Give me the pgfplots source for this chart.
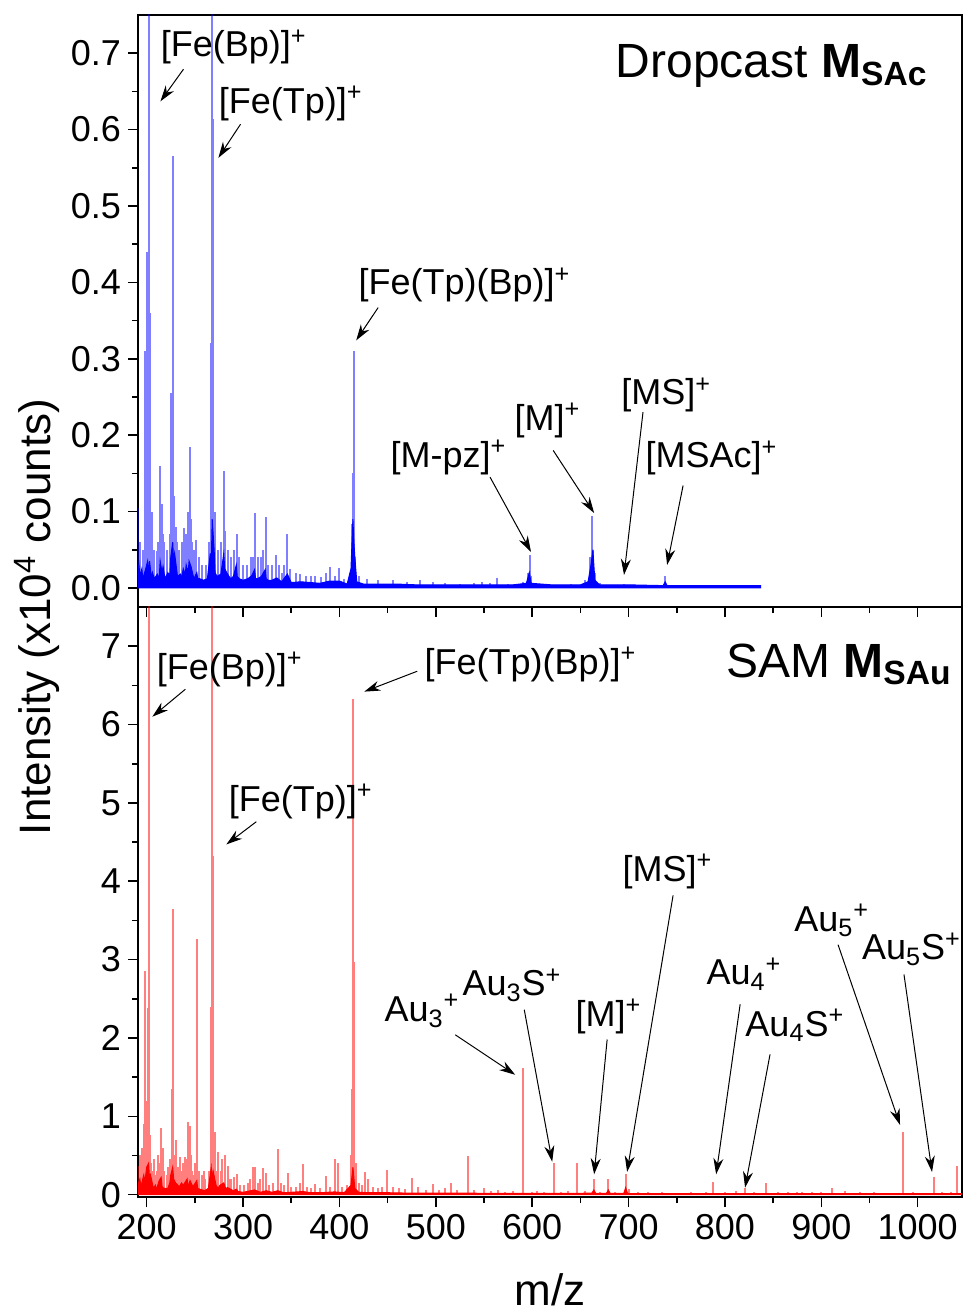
\documentclass[border=0pt]{standalone}
\usepackage{fontspec}
\setmainfont{Liberation Sans}
\usepackage{pgfplots}
\usepackage{pgfplotstable}
\pgfplotsset{compat=1.18}
\usetikzlibrary{arrows.meta}

% ---------- Dropcast (blue) : individual peaks ----------
\pgfplotstableread{
m I
191.5 0.105
193 0.06
196 0.05
198.6 0.31
200.5 0.44
202 1.2
203 0.36
204.5 0.08
205.9 0.10
208 0.05
210.4 0.048
212 0.06
214.3 0.16
215.5 0.11
217 0.07
218 0.06
221 0.05
224 0.07
225.6 0.255
227 0.565
228.5 0.12
230 0.08
231 0.06
234 0.05
237 0.06
239 0.078
241 0.07
243 0.10
244.6 0.185
246 0.09
247 0.06
249 0.05
251.5 0.063
254 0.04
257 0.03
262 0.03
265 0.06
267 0.32
268 1.2
269 0.614
271 0.10
274 0.05
277 0.06
280 0.153
281.5 0.074
284 0.05
288 0.04
291 0.05
293.3 0.07
296 0.04
300 0.03
304 0.03
308 0.04
310 0.041
312.4 0.098
315 0.04
319 0.04
321 0.05
323.5 0.093
326 0.03
330 0.03
334.5 0.043
337 0.03
340 0.02
343 0.03
346 0.07
349 0.025
355 0.02
359 0.018
365 0.015
370 0.015
375 0.015
381 0.014
386 0.02
390 0.028
395 0.015
400 0.026
405 0.012
411 0.02
413 0.083
414.2 0.15
415 0.31
416.5 0.04
420 0.015
428.8 0.012
440 0.01
456 0.01
470 0.008
483.6 0.01
497.5 0.008
510 0.006
525 0.005
540 0.006
548 0.008
556 0.006
563 0.013
575 0.005
590 0.008
596 0.02
597.5 0.043
599 0.015
610 0.005
625 0.004
640 0.005
655 0.01
660 0.04
662 0.094
663 0.05
665 0.02
670 0.006
680 0.004
695 0.005
710 0.003
737.8 0.015
750 0.003
790 0.002
820 0.002
}\bluepk

% ---------- Dropcast (blue) : dense band ----------
\pgfplotstableread{
m I
191 0.02
192 0.03
193 0.015
195 0.025
196 0.012
199 0.025
201 0.035
202 0.02
203 0.035
205 0.012
206 0.02
208 0.012
211 0.018
213 0.012
214 0.035
216 0.02
217 0.028
219 0.012
222 0.02
224 0.015
225 0.04
227 0.06
228 0.035
229 0.045
232 0.015
235 0.018
236 0.012
238 0.025
240 0.018
241 0.03
243 0.02
244 0.035
246 0.028
249 0.012
252 0.02
253 0.012
255 0.012
259 0.01
263 0.012
266 0.045
267 0.03
268 0.09
270 0.05
271 0.02
273 0.015
277 0.018
280 0.045
281 0.025
283 0.02
287 0.012
290 0.015
293 0.03
294 0.015
296 0.012
300 0.01
305 0.012
309 0.016
312 0.024
313 0.012
315 0.012
319 0.015
323 0.024
324 0.012
326 0.01
330 0.01
335 0.013
340 0.008
346 0.018
350 0.007
360 0.008
370 0.007
380 0.006
390 0.009
400 0.009
408 0.005
412 0.025
414 0.09
415 0.06
416 0.04
418 0.008
425 0.005
440 0.005
460 0.005
480 0.004
500 0.004
540 0.004
580 0.004
594 0.006
597 0.02
599 0.006
620 0.004
650 0.004
658 0.008
661 0.03
663 0.05
665 0.01
670 0.004
700 0.004
736 0.003
738 0.008
740 0.003
800 0.003
837 0.003
}\blueband

% ---------- SAM (red) : individual peaks ----------
\pgfplotstableread{
m I
191.3 0.37
193 0.5
195 0.6
197 0.9
198.6 2.85
200 1.2
201 2.38
202 10
203.5 0.76
205 0.4
207 0.3
208 0.45
209 0.25
211 0.3
212 0.5
213 0.4
214.6 0.85
216 0.4
217 0.6
218 0.3
221 0.25
222 0.35
224 0.45
226 1.35
227.3 3.64
229 0.5
230 0.7
231 0.3
233 0.35
234.7 0.48
237 0.3
238 0.4
240 0.48
242 0.45
243.3 0.93
244.5 0.88
246 0.5
247 0.3
249 0.25
250 0.4
252 3.26
254 0.3
257 0.25
259 0.3
261 0.2
265 0.3
266.8 2.4
267.6 10
268.5 4.32
270 0.6
271 0.8
272 0.3
274.5 0.55
277 0.3
278 0.45
280.8 0.5
284 0.37
286 0.2
288 0.2
291 0.22
293.6 0.27
297 0.12
301 0.12
305 0.15
307.6 0.2
310 0.35
312.7 0.35
316 0.15
318 0.2
320.7 0.34
323.8 0.28
327 0.12
331 0.15
336 0.58
339 0.15
343 0.12
346.7 0.28
350 0.1
355 0.1
359 0.15
362.3 0.39
366 0.1
370 0.08
375 0.14
380 0.08
386.5 0.24
390 0.1
394.9 0.46
398.7 0.40
403 0.1
408 0.12
412 0.5
413.5 1.35
414.3 6.33
415 2.97
417 0.4
420 0.15
423 0.12
426.4 0.29
429.5 0.2
435 0.1
440 0.08
444 0.1
449.7 0.32
456 0.1
462 0.08
468 0.07
475.7 0.21
482 0.1
490 0.06
497 0.14
503 0.06
510 0.08
516 0.15
522 0.06
532.9 0.49
540 0.06
550 0.08
557 0.05
565 0.06
572 0.04
580 0.05
590.9 1.62
600 0.04
605 0.05
612 0.04
622.9 0.40
630 0.04
637 0.05
647 0.41
655 0.05
664 0.20
670 0.04
679 0.20
686 0.04
697.5 0.26
700 0.07
710 0.03
720 0.03
735 0.03
750 0.02
765 0.03
780 0.03
788 0.16
800 0.03
812 0.05
821 0.09
830 0.03
843 0.15
855 0.03
865 0.04
875 0.04
880 0.03
890 0.04
900 0.03
911 0.08
925 0.05
940 0.03
955 0.03
970 0.02
985 0.80
995 0.03
1005 0.02
1016.8 0.22
1025 0.03
1035 0.03
1040.5 0.36
}\redpk

% ---------- SAM (red) : dense band ----------
\pgfplotstableread{
m I
191 0.12
193 0.2
194 0.1
197 0.25
198 0.15
200 0.35
202 0.4
203 0.2
204 0.25
207 0.08
209 0.12
210 0.06
213 0.18
215 0.22
216 0.1
218 0.08
222 0.08
224 0.15
225 0.25
227 0.35
228 0.2
230 0.15
234 0.1
236 0.15
238 0.12
242 0.2
243 0.1
245 0.18
248 0.1
252 0.18
253 0.08
255 0.07
260 0.05
264 0.08
267 0.35
268 0.2
269 0.3
272 0.12
274 0.08
276 0.12
280 0.15
282 0.08
284 0.09
290 0.05
293 0.07
295 0.04
300 0.03
308 0.05
312 0.06
318 0.03
324 0.05
330 0.03
336 0.05
342 0.025
350 0.03
362 0.04
370 0.025
380 0.025
395 0.035
405 0.025
412 0.12
414 0.35
416 0.08
420 0.03
430 0.025
450 0.025
470 0.02
500 0.02
530 0.02
560 0.015
600 0.015
640 0.015
662 0.02
664 0.06
666 0.015
677 0.015
679 0.06
681 0.015
695 0.015
697 0.09
699 0.015
720 0.012
800 0.012
900 0.012
1000 0.012
1046 0.012
}\redband

\pgfplotsset{
  specstyle/.style={
    width=412pt, scale only axis,
    xmin=191, xmax=1046,
    xtick={200,300,400,500,600,700,800,900,1000},
    minor x tick num=1,
    tick align=outside, tick pos=left,
    major tick length=5pt, minor tick length=3pt,
    every tick/.append style={black, line width=0.8pt},
    axis line style={line width=0.9pt},
    tick label style={font=\fontsize{18}{20}\selectfont},
    /pgf/number format/assume math mode=true,
    /pgf/number format/1000 sep={},
    clip mode=individual,
  },
}
\tikzset{
  ann/.style={font=\fontsize{18}{20}\selectfont, anchor=base west, inner sep=0pt},
  arr/.style={-{Stealth[length=8pt,width=5pt]}, line width=0.5pt, black},
}

\begin{document}
\begin{tikzpicture}
% ---------------- top panel ----------------
\begin{axis}[specstyle, name=top, height=296pt,
  ymin=-0.025, ymax=0.75,
  ytick={0,0.1,0.2,0.3,0.4,0.5,0.6,0.7}, minor y tick num=1,
  yticklabel style={/pgf/number format/.cd, fixed, fixed zerofill, precision=1},
  xticklabels={}]
  \addplot[fill=blue, draw=blue, line width=0.5pt] table[x=m,y=I] {\blueband} \closedcycle;
  \addplot[ycomb, no marks, draw=blue, draw opacity=0.5, line width=1pt] table[x=m,y=I] {\bluepk};

  \node[ann] at (axis cs:214.2,0.695) {[Fe(Bp)]\textsuperscript{+}};
  \draw[arr] (axis cs:238.2,0.679) -- (axis cs:214.3,0.637);
  \node[ann] at (axis cs:274.4,0.621) {[Fe(Tp)]\textsuperscript{+}};
  \draw[arr] (axis cs:297.4,0.607) -- (axis cs:274.4,0.563);
  \node[ann] at (axis cs:419.4,0.384) {[Fe(Tp)(Bp)]\textsuperscript{+}};
  \draw[arr] (axis cs:440.2,0.367) -- (axis cs:417.4,0.324);
  \node[ann] at (axis cs:452.7,0.158) {[M-pz]\textsuperscript{+}};
  \draw[arr] (axis cs:556.3,0.145) -- (axis cs:598.8,0.047);
  \node[ann] at (axis cs:581.3,0.206) {[M]\textsuperscript{+}};
  \draw[arr] (axis cs:621.8,0.180) -- (axis cs:664.3,0.098);
  \node[ann] at (axis cs:692.2,0.240) {[MS]\textsuperscript{+}};
  \draw[arr] (axis cs:715,0.230) -- (axis cs:695.3,0.017);
  \node[ann] at (axis cs:717.2,0.157) {[MSAc]\textsuperscript{+}};
  \draw[arr] (axis cs:756.6,0.134) -- (axis cs:740,0.030);
  \node[font=\fontsize{24}{26}\selectfont, anchor=base east, inner sep=0pt]
    at (axis cs:1010.7,0.668) {Dropcast {\bfseries M\textsubscript{SAc}}};
\end{axis}

% ---------------- bottom panel ----------------
\begin{axis}[specstyle, name=bot, at={(top.south west)}, anchor=north west,
  height=295pt,
  ymin=-0.03, ymax=7.5,
  ytick={0,1,2,3,4,5,6,7}, minor y tick num=1]
  \addplot[fill=red, draw=red, line width=0.5pt] table[x=m,y=I] {\redband} \closedcycle;
  \addplot[ycomb, no marks, draw=red, draw opacity=0.5, line width=1pt] table[x=m,y=I] {\redpk};

  \node[ann] at (axis cs:210.2,6.58) {[Fe(Bp)]\textsuperscript{+}};
  \draw[arr] (axis cs:240.1,6.45) -- (axis cs:205.9,6.10);
  \node[ann] at (axis cs:284.9,4.89) {[Fe(Tp)]\textsuperscript{+}};
  \draw[arr] (axis cs:313.8,4.76) -- (axis cs:282.7,4.47);
  \node[ann] at (axis cs:488,6.64) {[Fe(Tp)(Bp)]\textsuperscript{+}};
  \draw[arr] (axis cs:480.7,6.68) -- (axis cs:425.8,6.42);
  \node[ann] at (axis cs:446.5,2.21) {Au\textsubscript{3}\textsuperscript{+}};
  \draw[arr] (axis cs:520.2,2.04) -- (axis cs:582.4,1.53);
  \node[ann] at (axis cs:527.4,2.54) {Au\textsubscript{3}S\textsuperscript{+}};
  \draw[arr] (axis cs:591.8,2.36) -- (axis cs:620.8,0.42);
  \node[ann] at (axis cs:644.6,2.15) {[M]\textsuperscript{+}};
  \draw[arr] (axis cs:677.8,1.98) -- (axis cs:664.3,0.26);
  \node[ann] at (axis cs:693.4,4.0) {[MS]\textsuperscript{+}};
  \draw[arr] (axis cs:746.2,3.82) -- (axis cs:698.5,0.29);
  \node[ann] at (axis cs:780.5,2.68) {Au\textsubscript{4}\textsuperscript{+}};
  \draw[arr] (axis cs:815.8,2.43) -- (axis cs:790.9,0.26);
  \node[ann] at (axis cs:820.9,2.02) {Au\textsubscript{4}S\textsuperscript{+}};
  \draw[arr] (axis cs:846.8,1.79) -- (axis cs:820.9,0.09);
  \node[ann] at (axis cs:871.7,3.36) {Au\textsubscript{5}\textsuperscript{+}};
  \draw[arr] (axis cs:917.4,3.19) -- (axis cs:981.7,0.89);
  \node[ann] at (axis cs:942,3.0) {Au\textsubscript{5}S\textsuperscript{+}};
  \draw[arr] (axis cs:985.8,2.81) -- (axis cs:1014.9,0.29);
  \node[font=\fontsize{24}{26}\selectfont, anchor=base east, inner sep=0pt]
    at (axis cs:1035.6,6.6) {SAM {\bfseries M\textsubscript{SAu}}};
\end{axis}

\node[rotate=90, font=\fontsize{22}{24}\selectfont]
  at ([xshift=-50.5pt,yshift=290pt]bot.south west) {Intensity (x10\textsuperscript{4} counts)};
\node[font=\fontsize{22}{24}\selectfont] at ([yshift=-46.5pt]bot.south) {m/z};

\pgfresetboundingbox
\path ([xshift=-69pt,yshift=-58pt]bot.south west) rectangle ([xshift=1pt,yshift=7.5pt]top.north east);
\end{tikzpicture}
\end{document}
